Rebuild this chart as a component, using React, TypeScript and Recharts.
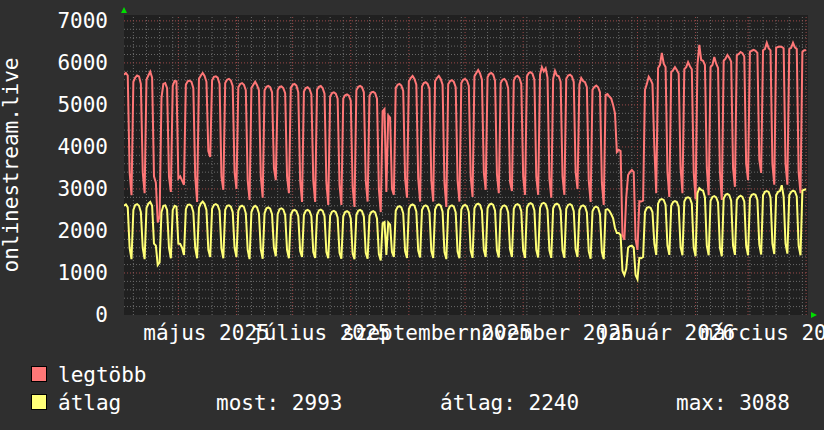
import { LineChart, Line, XAxis, YAxis, ReferenceLine } from "recharts";

const FONT = "'DejaVu Sans Mono', monospace";
const RED = "#ff7777";
const YELLOW = "#ffff77";

// day 0 = 2025-04-02 (szerda), one value per day
// legtöbb (daily max)
const LEGTOBB = [
  5720, 5760, 5700, 3400, 2850, // ápr 2
  5550, 5650, 5700, 5680, 5500, 3400, 2900, // ápr 7
  5600, 5700, 5790, 5650, 3300, 3150, 2200, // ápr 14
  2350, 5170, 5500, 5520, 5400, 3300, 2930, // ápr 21
  5450, 5570, 5560, 3250, 3300, 3200, 3100, // ápr 28
  5480, 5560, 5580, 5550, 5400, 3300, 2690, // máj 5
  5620, 5700, 5760, 5690, 5550, 3900, 3760, // máj 12
  5580, 5670, 5680, 5650, 5500, 3300, 2980, // máj 19
  5520, 5600, 5620, 5580, 5450, 3400, 3000, // máj 26
  5420, 5500, 5520, 5480, 5350, 3200, 2740, // jún 2
  5400, 5480, 5550, 5470, 5350, 3300, 2790, // jún 9
  5350, 5430, 5450, 5420, 5300, 3500, 3210, // jún 16
  5350, 5430, 5440, 5400, 5280, 3300, 2900, // jún 23
  5400, 5480, 5500, 5460, 5300, 3200, 2690, // jún 30
  5320, 5400, 5420, 5380, 5250, 3200, 2690, // júl 7
  5360, 5430, 5450, 5400, 5270, 3150, 2620, // júl 14
  5200, 5280, 5300, 5270, 5150, 3100, 2620, // júl 21
  5150, 5230, 5250, 5220, 5100, 3050, 2570, // júl 28
  5350, 5430, 5450, 5420, 5300, 3200, 2700, // aug 4
  5220, 5300, 5310, 5280, 5150, 3000, 2450, // aug 11
  4850, 4900, 2930, 4750, 4700, 3000, 2860, // aug 18
  5400, 5480, 5500, 5460, 5330, 3250, 2790, // aug 25
  5560, 5640, 5690, 5620, 5480, 3250, 2700, // szept 1
  5440, 5520, 5540, 5500, 5380, 3200, 2700, // szept 8
  5560, 5640, 5690, 5620, 5480, 3150, 2570, // szept 15
  5490, 5570, 5590, 5550, 5420, 3200, 2700, // szept 22
  5520, 5600, 5620, 5580, 5450, 3300, 2810, // szept 29
  5680, 5760, 5830, 5750, 5600, 3400, 2980, // okt 6
  5660, 5740, 5760, 5720, 5580, 3350, 2900, // okt 13
  5520, 5600, 5620, 5560, 5400, 3170, 2950, // okt 20
  5580, 5670, 5690, 5640, 5500, 3300, 2860, // okt 27
  5680, 5760, 5780, 5740, 5600, 3300, 2860, // nov 3
  5720, 5900, 5800, 5870, 5650, 3250, 2790, // nov 10
  5620, 5810, 5700, 5680, 5550, 3300, 2860, // nov 17
  5620, 5700, 5720, 5680, 5550, 3400, 3000, // nov 24
  5480, 5640, 5570, 5540, 5420, 3200, 2690, // dec 1
  5360, 5430, 5460, 5420, 5300, 3150, 2620, // dec 8
  5240, 5260, 5200, 5150, 5000, 4800, 3880, // dec 15
  3930, 3900, 1900, 1790, 2790, 3330, 3400, // dec 22
  3450, 3400, 1800, 1550, 2710, 2700, 2720, // dec 29
  5360, 5500, 5670, 5600, 5500, 4000, 2900, // jan 5
  5880, 5950, 6240, 5980, 5900, 3400, 2810, // jan 12
  5780, 5830, 5900, 5830, 5750, 3500, 2900, // jan 19
  5850, 5900, 6020, 5920, 5850, 3400, 2750, // jan 26
  5950, 6430, 6070, 6050, 5950, 3500, 2850, // feb 2
  5900, 5950, 6140, 5980, 5880, 3400, 2740, // feb 9
  6050, 6100, 6190, 6120, 6030, 3500, 3050, // feb 16
  6180, 6210, 6260, 6230, 6150, 3600, 3210, // feb 23
  6260, 6290, 6310, 6290, 6240, 3700, 3380, // márc 2
  6300, 6330, 6480, 6350, 6300, 3600, 3100, // márc 9
  6360, 6380, 6390, 6380, 6350, 3600, 3100, // márc 16
  6330, 6360, 6480, 6370, 6330, 3400, 2900, // márc 23
  6260, 6300, 6300, // márc 30
];

// átlag (daily average)
const ATLAG = [
  2600, 2630, 2560, 1600, 1330,
  2500, 2620, 2640, 2600, 2450, 1600, 1330,
  2550, 2650, 2690, 2600, 1700, 1650, 1190,
  1250, 2450, 2600, 2610, 2500, 1600, 1350,
  2500, 2600, 2580, 1700, 1690, 1600, 1430,
  2520, 2620, 2630, 2600, 2450, 1600, 1350,
  2550, 2650, 2700, 2640, 2500, 1550, 1380,
  2530, 2620, 2640, 2610, 2480, 1580, 1350,
  2500, 2600, 2610, 2580, 2450, 1600, 1380,
  2480, 2580, 2600, 2570, 2420, 1550, 1330,
  2450, 2560, 2600, 2560, 2420, 1560, 1340,
  2420, 2540, 2560, 2530, 2400, 1600, 1400,
  2400, 2520, 2540, 2510, 2380, 1550, 1350,
  2380, 2480, 2500, 2470, 2350, 1520, 1380,
  2380, 2480, 2500, 2470, 2350, 1500, 1360,
  2380, 2490, 2510, 2480, 2350, 1500, 1350,
  2360, 2460, 2480, 2450, 2320, 1480, 1340,
  2350, 2450, 2470, 2440, 2300, 1470, 1330,
  2380, 2480, 2500, 2470, 2340, 1480, 1340,
  2360, 2450, 2470, 2440, 2300, 1450, 1300,
  2180, 2210, 1430, 2200, 2150, 1500, 1380,
  2480, 2570, 2590, 2560, 2420, 1520, 1360,
  2520, 2610, 2630, 2600, 2460, 1530, 1370,
  2500, 2590, 2610, 2580, 2440, 1520, 1360,
  2510, 2610, 2630, 2600, 2460, 1500, 1330,
  2500, 2590, 2610, 2580, 2440, 1510, 1350,
  2510, 2600, 2620, 2590, 2450, 1530, 1360,
  2540, 2630, 2650, 2620, 2480, 1550, 1380,
  2540, 2630, 2650, 2620, 2480, 1540, 1370,
  2500, 2590, 2610, 2580, 2440, 1560, 1380,
  2530, 2620, 2640, 2610, 2470, 1540, 1360,
  2550, 2640, 2660, 2630, 2490, 1550, 1370,
  2550, 2650, 2670, 2640, 2500, 1540, 1360,
  2540, 2630, 2650, 2620, 2480, 1540, 1360,
  2530, 2620, 2640, 2610, 2470, 1560, 1380,
  2500, 2590, 2610, 2580, 2440, 1520, 1340,
  2470, 2560, 2580, 2550, 2400, 1500, 1330,
  2500, 2520, 2480, 2400, 2300, 2070, 1950,
  1950, 1900, 1050, 950, 1100, 1600, 1640,
  1650, 1600, 950, 850, 1360, 1350, 1380,
  2450, 2550, 2570, 2550, 2450, 1700, 1430,
  2650, 2740, 2760, 2740, 2620, 1650, 1430,
  2600, 2690, 2710, 2690, 2570, 1620, 1420,
  2700, 2790, 2800, 2780, 2650, 1600, 1400,
  2900, 3020, 2980, 2960, 2800, 1650, 1420,
  2720, 2810, 2830, 2800, 2680, 1600, 1400,
  2770, 2860, 2880, 2850, 2720, 1650, 1430,
  2740, 2810, 2840, 2810, 2700, 1650, 1420,
  2780, 2860, 2880, 2860, 2740, 1680, 1440,
  2850, 2930, 2950, 2930, 2800, 1700, 1450,
  2850, 2930, 2950, 3088, 2820, 1700, 1460,
  2850, 2930, 2960, 2940, 2820, 1650, 1420,
  2960, 2980, 2993,
];

// x labels sit at month start + 15 days
const LABEL_DAYS = [44, 105, 167, 228, 289, 348];
const LABELS = ["május 2025", "július 2025", "szeptember 2025", "november 2025", "január 2026", "március 2026"];
const MONTH_STARTS = [29, 60, 90, 121, 152, 182, 213, 243, 274, 305, 333, 364];
const Y_TICKS = [0, 1000, 2000, 3000, 4000, 5000, 6000, 7000];

const MONDAYS = Array.from({ length: 52 }, (_, k) => 5 + 7 * k).filter((d) => !MONTH_STARTS.includes(d));
const Y_MINOR = Array.from({ length: 35 }, (_, k) => (k + 1) * 200).filter((v) => v % 1000 !== 0);

const rows = LEGTOBB.map((v, i) => ({ day: i, legtobb: v, atlag: ATLAG[i] }));

export default function App() {
  return (
    <div style={{ position: "absolute", left: 0, top: 0, width: 824, height: 430, background: "#2f2f2f", overflow: "hidden" }}>
      <div style={{ position: "absolute", left: 124, top: 15, width: 684, height: 300, background: "#202020" }} />
      <LineChart
        width={824}
        height={430}
        data={rows}
        margin={{ top: 15, right: 16, bottom: 75, left: 0 }}
        style={{ position: "absolute", left: 0, top: 0 }}
      >
        <XAxis
          dataKey="day"
          type="number"
          domain={[0, 365]}
          allowDataOverflow
          ticks={LABEL_DAYS}
          interval={0}
          tickFormatter={(d: number) => LABELS[LABEL_DAYS.indexOf(d)]}
          axisLine={false}
          tickLine={false}
          tickSize={0}
          tickMargin={10}
          height={40}
          tick={{ fill: "#ffffff", fontSize: 21, fontFamily: FONT }}
        />
        <YAxis
          type="number"
          domain={[0, 7140]}
          allowDataOverflow
          ticks={Y_TICKS}
          interval={0}
          width={124}
          axisLine={false}
          tickLine={false}
          tickSize={0}
          tickMargin={16}
          tick={{ fill: "#ffffff", fontSize: 21, fontFamily: FONT }}
        />
        {Y_MINOR.map((v) => (
          <ReferenceLine key={"ym" + v} y={v} stroke="#6a6a6a" strokeDasharray="1 2" />
        ))}
        {MONDAYS.map((d) => (
          <ReferenceLine key={"xm" + d} x={d} stroke="#6a6a6a" strokeDasharray="1 2" />
        ))}
        {Y_TICKS.slice(1).map((v) => (
          <ReferenceLine key={"yM" + v} y={v} stroke="#9a4848" strokeDasharray="1 2" />
        ))}
        {MONTH_STARTS.map((d) => (
          <ReferenceLine key={"xM" + d} x={d} stroke="#9a4848" strokeDasharray="1 2" />
        ))}
        <Line type="linear" dataKey="legtobb" stroke={RED} strokeWidth={2} dot={false} isAnimationActive={false} />
        <Line type="linear" dataKey="atlag" stroke={YELLOW} strokeWidth={2} dot={false} isAnimationActive={false} />
      </LineChart>
      <svg width={824} height={430} style={{ position: "absolute", left: 0, top: 0, pointerEvents: "none" }}>
        <polygon points="121,13 127,13 124,7" fill="#00dd00" />
        <polygon points="811,312 811,318 817,315" fill="#00dd00" />
        <text
          x={18}
          y={165}
          transform="rotate(-90 18 165)"
          textAnchor="middle"
          fill="#ffffff"
          fontSize={21}
          fontFamily={FONT}
        >
          onlinestream.live
        </text>
        <rect x={31.5} y={366.5} width={15} height={15} fill={RED} stroke="#000" />
        <text x={58} y={382} fill="#ffffff" fontSize={21} fontFamily={FONT}>legtöbb</text>
        <rect x={31.5} y={394.5} width={15} height={15} fill={YELLOW} stroke="#000" />
        <text x={58} y={410} fill="#ffffff" fontSize={21} fontFamily={FONT}>átlag</text>
        <text x={216} y={410} fill="#ffffff" fontSize={21} fontFamily={FONT}>most: 2993</text>
        <text x={440} y={410} fill="#ffffff" fontSize={21} fontFamily={FONT}>átlag: 2240</text>
        <text x={676} y={410} fill="#ffffff" fontSize={21} fontFamily={FONT}>max: 3088</text>
      </svg>
    </div>
  );
}
